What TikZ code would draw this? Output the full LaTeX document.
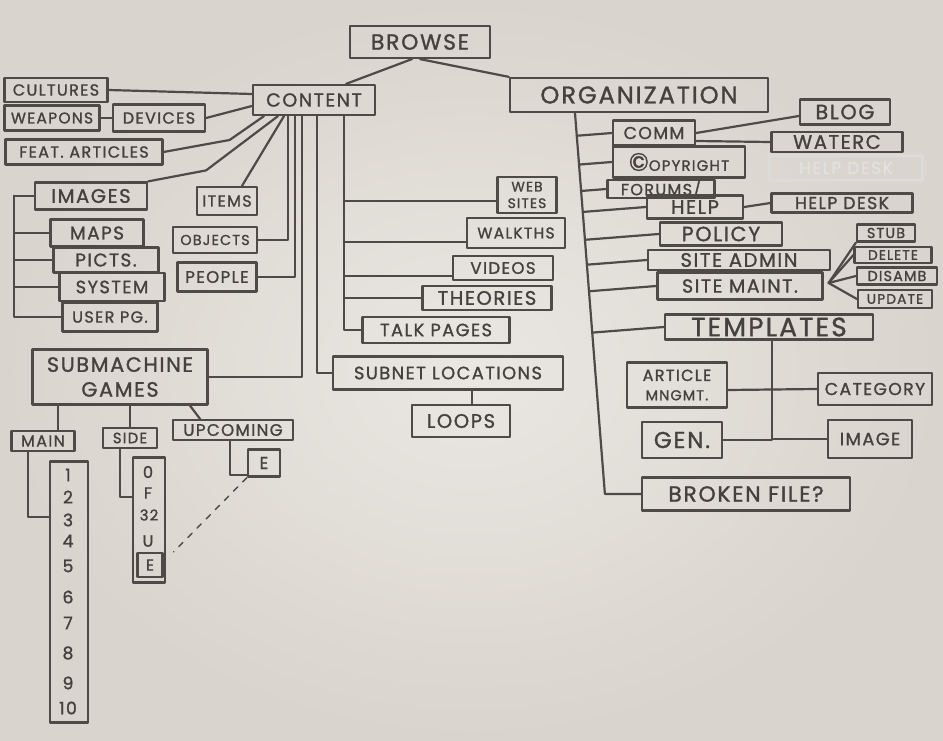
\documentclass[tikz,border=0pt]{standalone}
\usepackage{fontspec}
\setmainfont{Poppins}[LetterSpace=8, FakeBold=1.2]
\usetikzlibrary{calc}
\definecolor{paper}{HTML}{EAE7E2}
\definecolor{paperdark}{HTML}{D9D4CD}
\definecolor{pencil}{HTML}{4E4A46}
\definecolor{ink}{HTML}{45413E}
\newcommand\fsz[1]{\fontsize{\fpeval{1.15*#1}}{\fpeval{1.38*#1}}\selectfont}
\tikzset{
  pen/.style={draw=pencil, line width=2.2pt, line cap=round, line join=round},
  box/.style={pen, rectangle, inner sep=0pt, text=ink, align=center},
  sz/.style 2 args={minimum width=#1pt, minimum height=#2pt},
  lbl/.style={inner sep=0pt, text=ink},
}
\begin{document}
\begin{tikzpicture}[x=1pt,y=-1pt]
\useasboundingbox (0,0) rectangle (943,741);
\shade[inner color=paper, outer color=paperdark] (0,0) rectangle (943,741);

% top
\node[box,sz={140}{32},font=\fsz{19}] (browse) at (420,42) {BROWSE};
\node[box,sz={122}{30},font=\fsz{16.5}] (content) at (314,100) {CONTENT};
\node[box,sz={258}{34},font=\fsz{21}] (org) at (639,95) {ORGANIZATION};

% content, left
\node[box,sz={103}{24},font=\fsz{14}] (cultures) at (56,90) {CULTURES};
\node[box,sz={95}{25},font=\fsz{13.5}] (weapons) at (52,118) {WEAPONS};
\node[box,sz={92}{27},font=\fsz{14}] (devices) at (159,118) {DEVICES};
\node[box,sz={157}{25},font=\fsz{14}] (feat) at (84,152) {FEAT. ARTICLES};
\node[box,sz={112}{27},font=\fsz{17}] (images) at (91,196) {IMAGES};
\node[box,sz={93}{27},font=\fsz{16}] (maps) at (97,233) {MAPS};
\node[box,sz={105}{25},font=\fsz{16}] (picts) at (106,260) {PICTS.};
\node[box,sz={105}{28},font=\fsz{15.5}] (system) at (112,287) {SYSTEM};
\node[box,sz={95}{29},font=\fsz{14}] (userpg) at (110,317) {USER PG.};
\node[box,sz={60}{28},font=\fsz{14}] (items) at (227,201) {ITEMS};
\node[box,sz={84}{26},font=\fsz{12.5}] (objects) at (215,240) {OBJECTS};
\node[box,sz={79}{29},font=\fsz{14.5}] (people) at (217,277) {PEOPLE};

% content, right
\node[box,sz={59}{36},font=\fsz{12}] (websites) at (527,195) {WEB\\SITES};
\node[box,sz={98}{30},font=\fsz{13.5}] (walkths) at (516,233) {WALKTHS};
\node[box,sz={100}{24},font=\fsz{14.5}] (videos) at (503,268) {VIDEOS};
\node[box,sz={129}{24},font=\fsz{17}] (theories) at (487,298) {THEORIES};
\node[box,sz={147}{26},font=\fsz{15.5}] (talk) at (436,330) {TALK PAGES};
\node[box,sz={230}{33},font=\fsz{15.5}] (subnet) at (448,373) {SUBNET LOCATIONS};
\node[box,sz={98}{32},font=\fsz{17}] (loops) at (461,421) {LOOPS};

% submachine games
\node[box,sz={175}{55},font=\fsz{18}] (subm) at (120,377) {SUBMACHINE\\GAMES};
\node[box,sz={63}{20},font=\fsz{14}] (main) at (43,441) {MAIN};
\node[box,sz={54}{20},font=\fsz{13}] (side) at (130,438) {SIDE};
\node[box,sz={120}{20},font=\fsz{14.5}] (upcoming) at (233,430) {UPCOMING};
\node[box,sz={32}{27},font=\fsz{15}] (upe) at (264,463) {E};
\node[box,sz={38}{261}] (mainlist) at (69,592) {};
\foreach \n/\y in {1/475,2/497,3/520,4/541,5/566,6/597,7/623,8/653,9/683,10/708}
  \node[lbl,font=\fsz{15}] (m\n) at (68,\y) {\n};
\node[box,sz={32}{125}] (sidelist) at (149,520) {};
\node[lbl,font=\fsz{14}] (s0) at (148,472) {0};
\node[lbl,font=\fsz{14}] (sF) at (148,493) {F};
\node[lbl,font=\fsz{13}] (s32) at (149,515) {32};
\node[lbl,font=\fsz{14}] (sU) at (148,541) {U};
\node[box,sz={25}{24},font=\fsz{14}] (sidee) at (150,565) {E};

% organization
\node[box,sz={82}{25},font=\fsz{15}] (comm) at (654,133) {COMM};
\node[box,sz={90}{25},font=\fsz{18}] (blog) at (845,112) {BLOG};
\node[box,sz={131}{20},font=\fsz{17}] (waterc) at (837,142) {WATERC};
\node[box,sz={153}{25},font=\fsz{15},draw=pencil!20,text=ink!16] (ghost) at (846,168) {HELP DESK};
\node[box,sz={132}{31}] (copy) at (679,162) {{\fsz{22}\textcopyright}{\fsz{13}OPYRIGHT}};
\node[box,sz={107}{18},font=\fsz{14}] (forums) at (661,189) {FORUMS/};
\node[box,sz={96}{23},font=\fsz{17}] (help) at (695,207) {HELP};
\node[box,sz={141}{19},font=\fsz{15}] (helpdesk) at (842,203) {HELP DESK};
\node[box,sz={122}{23},font=\fsz{18}] (policy) at (721,234) {POLICY};
\node[box,sz={182}{20},font=\fsz{17}] (siteadmin) at (739,260) {SITE ADMIN};
\node[box,sz={165}{27},font=\fsz{16.5}] (sitemaint) at (740,286) {SITE MAINT.};
\node[box,sz={58}{17},font=\fsz{12.5}] (stub) at (886,233) {STUB};
\node[box,sz={77}{16},font=\fsz{12}] (delete) at (893,255) {DELETE};
\node[box,sz={80}{17},font=\fsz{12.5}] (disamb) at (897,276) {DISAMB};
\node[box,sz={74}{18},font=\fsz{12}] (update) at (895,299) {UPDATE};
\node[box,sz={208}{25},font=\fsz{23}] (templates) at (769,327) {TEMPLATES};
\node[box,sz={100}{45},font=\fsz{14}] (article) at (677,385) {ARTICLE\\{\fsz{12.5}MNGMT.}};
\node[box,sz={114}{32},font=\fsz{15}] (category) at (875,389) {CATEGORY};
\node[box,sz={80}{36},font=\fsz{20}] (gen) at (682,440) {GEN.};
\node[box,sz={84}{38},font=\fsz{15.5}] (image) at (870,439) {IMAGE};
\node[box,sz={208}{33},font=\fsz{19}] (broken) at (746,494) {BROKEN FILE?};

% connectors: top
\draw[pen] ([xshift=-8pt]browse.south) -- ([xshift=32pt]content.north);
\draw[pen] (browse.south) -- (org.north west);

% connectors: content
\draw[pen] (cultures.east) -- ([yshift=6pt]content.west);
\draw[pen] (weapons.east) -- (devices.west);
\draw[pen] (devices.east) -- ([yshift=-6pt]content.west);
\draw[pen] (feat.east) -- ++(66,-12) -- ([xshift=-50pt]content.south);
\draw[pen] (images.north east) -- ++(58,-11) -- ([xshift=-36pt]content.south);
\draw[pen] ([xshift=15pt]items.north) -- ([xshift=-30pt]content.south);
\draw[pen] (objects.east) -| ([xshift=-26pt]content.south);
\draw[pen] (people.east) -| ([xshift=-19pt]content.south);
\draw[pen] (subm.east) -| ([xshift=-12pt]content.south);
\draw[pen] ([xshift=3pt]content.south) |- (subnet.west);
\draw[pen] ([xshift=30pt]content.south) |- (talk.west);
\draw[pen] ([yshift=-6pt]websites.west) -| ([xshift=30pt]content.south);
\draw[pen] ([yshift=-9pt]walkths.west) -| ([xshift=30pt]content.south);
\draw[pen] ([yshift=-8pt]videos.west) -| ([xshift=30pt]content.south);
\draw[pen] (theories.west) -| ([xshift=30pt]content.south);
\draw[pen] ([xshift=24pt]subnet.south) -- ([xshift=11pt]loops.north);

% images group
\draw[pen] (images.west) -- ++(-20,0) |- (userpg.west);
\foreach \n in {maps,picts,system}
  \draw[pen] (\n.west) -| ([xshift=-20pt]images.west);

% submachine group
\draw[pen] ([xshift=15pt]main.north) -- ([xshift=-62pt]subm.south);
\draw[pen] (side.north) -- (side.north |- subm.south);
\draw[pen] ([xshift=-33pt]upcoming.north) -- ([xshift=70pt]subm.south);
\draw[pen] ([xshift=-15pt]main.south) |- ([yshift=75pt]mainlist.west);
\draw[pen] ([xshift=-10pt]side.south) |- ([yshift=23pt]sidelist.west);
\draw[pen] ([xshift=-3pt]upcoming.south) |- ([yshift=-12pt]upe.west);
\draw[pen, line width=1.4pt, dash pattern=on 6pt off 7pt] (upe.south west) -- ([xshift=10pt]sidee.north east);

% organization group
\coordinate (os) at ([xshift=-64pt]org.south);
\coordinate (ob) at ([xshift=-36pt]broken.west);
\draw[pen] (os) -- (ob) -- (broken.west);
\foreach \n in {comm,copy,forums,help,policy,siteadmin,sitemaint,templates}
  \draw[pen] (\n.west) -- ($(os)!(\n.west)!(ob)$);
\draw[pen] (comm.east) -- ([yshift=-4pt]blog.west);
\draw[pen] ([yshift=-8pt]comm.east) -- (waterc.west);
\draw[pen] (help.east) -- (helpdesk.west);
\coordinate (fan) at ([xshift=5pt,yshift=3pt]sitemaint.east);
\draw[pen] (fan) -- (stub.south west);
\foreach \n in {delete,disamb,update}
  \draw[pen] (fan) -- (\n.west);
\draw[pen] ([xshift=3pt]templates.south) |- (gen.east);
\draw[pen] ([yshift=-5pt]article.east) -- (category.west);
\draw[pen] (image.west) -| ([xshift=3pt]templates.south);
\end{tikzpicture}
\end{document}
